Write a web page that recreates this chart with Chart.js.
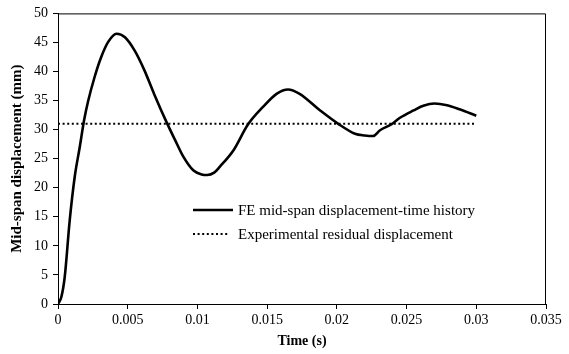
<!DOCTYPE html>
<html>
<head>
<meta charset="utf-8">
<script src="https://cdn.jsdelivr.net/npm/chart.js@4/dist/chart.umd.min.js"></script>
<style>
  html, body { margin: 0; padding: 0; background: #fff; }
  #wrap { width: 569px; height: 354px; }
</style>
</head>
<body>
<div id="wrap"><canvas id="chart"></canvas></div>
<script>
// time (s) and FE mid-span displacement (mm)
const times = [0, 0.00024, 0.00048, 0.00084, 0.0012, 0.00156, 0.00187, 0.00215, 0.00263, 0.0031, 0.0036, 0.0042,
  0.0048, 0.0055, 0.0062, 0.0069, 0.0078, 0.0084, 0.009, 0.0097, 0.0103, 0.0107, 0.0112, 0.0116, 0.0126,
  0.0136, 0.0147, 0.0157, 0.0165, 0.0173, 0.0188, 0.0201, 0.0213, 0.022, 0.0226, 0.0231, 0.0239, 0.0245,
  0.0255, 0.0262, 0.027, 0.0279, 0.0288, 0.03];
const feDisp = [0, 1.2, 4.6, 14.4, 21.9, 27.0, 31.6, 34.8, 39.1, 42.5, 45.1, 46.5,
  45.9, 43.6, 40.2, 36.1, 31.2, 28.2, 25.3, 23.0, 22.3, 22.2, 22.6, 23.6, 26.5,
  30.8, 33.9, 36.2, 36.9, 36.2, 33.3, 31.0, 29.3, 29.0, 28.9, 29.9, 30.9, 32.0,
  33.3, 34.1, 34.5, 34.2, 33.5, 32.4];
// experimental residual displacement (mm), drawn over the same time span
const residualTimes = [0, 0.03];
const residualDisp = [31, 31];
const xTicks = [0, 0.005, 0.01, 0.015, 0.02, 0.025, 0.03, 0.035];
const yTicks = [0, 5, 10, 15, 20, 25, 30, 35, 40, 45, 50];

const serif = "'Liberation Serif', 'Times New Roman', serif";

// box round the plot area
const frame = {
  id: 'frame',
  afterDraw(chart) {
    const a = chart.chartArea, c = chart.ctx;
    c.save();
    c.strokeStyle = '#000';
    c.lineWidth = 1;
    c.beginPath();
    c.moveTo(a.left, a.top + 0.5);
    c.lineTo(a.right - 0.5, a.top + 0.5);
    c.lineTo(a.right - 0.5, a.bottom);
    c.stroke();
    c.restore();
  }
};

// legend drawn inside the plot
const innerLegend = {
  id: 'innerLegend',
  afterDraw(chart) {
    const c = chart.ctx;
    const x0 = 193, y0 = 210, gap = 24;
    c.save();
    c.font = '15px ' + serif;
    c.fillStyle = '#000';
    c.textBaseline = 'middle';
    chart.data.datasets.forEach((ds, i) => {
      const y = y0 + i * gap;
      c.strokeStyle = '#000';
      c.lineWidth = ds.borderWidth;
      c.setLineDash(ds.borderDash || []);
      c.beginPath();
      c.moveTo(x0, y);
      c.lineTo(ds.borderDash ? x0 + 36 : x0 + 40, y);
      c.stroke();
      c.setLineDash([]);
      c.fillText(ds.label, x0 + 45, y + 1);
    });
    c.restore();
  }
};

new Chart(document.getElementById('chart'), {
  type: 'line',
  data: {
    datasets: [{
      label: 'FE mid-span displacement-time history',
      data: times.map((t, i) => ({ x: t, y: feDisp[i] })),
      borderColor: '#000',
      borderWidth: 2.6,
      pointRadius: 0,
      cubicInterpolationMode: 'monotone',
      fill: false
    }, {
      label: 'Experimental residual displacement',
      data: residualTimes.map((t, i) => ({ x: t, y: residualDisp[i] })),
      borderColor: '#000',
      borderWidth: 2,
      borderDash: [2, 2.6],
      pointRadius: 0,
      fill: false
    }]
  },
  options: {
    responsive: true,
    maintainAspectRatio: false,
    animation: false,
    layout: { padding: { left: 0, right: 23, top: 13, bottom: 0 } },
    plugins: {
      legend: { display: false },
      tooltip: { enabled: false }
    },
    scales: {
      x: {
        type: 'linear',
        min: 0,
        max: 0.035,
        afterFit(s) { s.height = 50; },
        afterBuildTicks(s) { s.ticks = xTicks.map(v => ({ value: v })); },
        border: { color: '#000', width: 1 },
        grid: { drawOnChartArea: false, tickLength: 5, color: '#000' },
        ticks: {
          color: '#000',
          padding: 3,
          maxRotation: 0,
          font: { family: serif, size: 14 },
          callback: v => String(Number(v.toFixed(3)))
        },
        title: {
          display: true,
          text: 'Time (s)',
          color: '#000',
          font: { family: serif, size: 14, weight: 'bold' },
          padding: { top: 0, bottom: 4 }
        }
      },
      y: {
        min: 0,
        max: 50,
        afterFit(s) { s.width = 58; },
        afterBuildTicks(s) { s.ticks = yTicks.map(v => ({ value: v })); },
        border: { color: '#000', width: 1 },
        grid: { drawOnChartArea: false, tickLength: 5, color: '#000' },
        ticks: {
          color: '#000',
          padding: 5,
          font: { family: serif, size: 14 }
        },
        title: {
          display: true,
          text: 'Mid-span displacement (mm)',
          color: '#000',
          font: { family: serif, size: 15, weight: 'bold' },
          padding: { top: 8, bottom: 0 }
        }
      }
    }
  },
  plugins: [frame, innerLegend]
});
</script>
</body>
</html>
